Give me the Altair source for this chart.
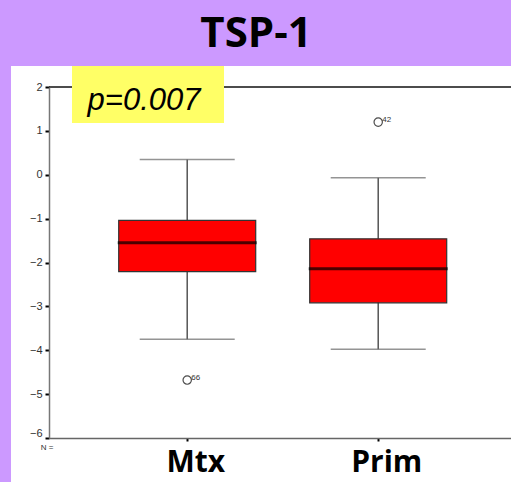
import altair as alt
import pandas as pd

# ---- data ----
groups = ["Mtx", "Prim"]
whisker_low = [-3.75, -3.98]
q1 = [-2.21, -2.92]
median = [-1.55, -2.14]
q3 = [-1.04, -1.46]
whisker_high = [0.35, -0.07]

outlier_group = ["Mtx", "Prim"]
outlier_value = [-4.68, 1.20]
outlier_case = ["66", "42"]

y_ticks = [-6, -5, -4, -3, -2, -1, 0, 1, 2]
title_text = "TSP-1"
p_text = "p=0.007"

boxes = pd.DataFrame({
    "group": groups, "low": whisker_low, "q1": q1, "median": median,
    "q3": q3, "high": whisker_high,
})
outliers = pd.DataFrame({"group": outlier_group, "value": outlier_value,
                         "case": outlier_case})
one = pd.DataFrame({"k": [0]})

xscale = alt.Scale(type="point", domain=groups, padding=0.7094, align=0.51)
yscale = alt.Scale(domain=[-6, 2], nice=False, zero=False)

xaxis = alt.Axis(title=None, labelAngle=0, domainColor="#666", domainWidth=1.5,
                 tickColor="black", tickWidth=2, tickSize=3,
                 labelFont="Open Sans", labelFontWeight="bold", labelFontSize=30,
                 labelColor="black", labelPadding=6, labelOffset=8, zindex=2)
yaxis = alt.Axis(title=None, values=y_ticks, grid=False, domainColor="#777",
                 domainWidth=1.5, tickColor="black", tickWidth=2, tickSize=4,
                 labelFont="Liberation Sans", labelFontSize=11, labelColor="#333",
                 labelPadding=3, zindex=2,
                 labelBaseline=alt.condition("datum.value == -6",
                                             alt.value("bottom"),
                                             alt.value("middle")))

X = alt.X("group:N", scale=xscale, axis=xaxis)

panel = alt.Chart(one).mark_rect(color="white").encode(
    x=alt.value(-38), x2=alt.value(470), y=alt.value(-21), y2=alt.value(400))

title = alt.Chart(one).mark_text(
    text=title_text, font="Open Sans", fontWeight="bold", fontSize=42,
    align="center", baseline="alphabetic", color="black"
).encode(x=alt.value(207), y=alt.value(-40))

top_rule = alt.Chart(one).mark_rule(color="#111", strokeWidth=1.5).encode(
    y=alt.datum(2, scale=yscale))

yellow = alt.Chart(one).mark_rect(color="#FFFF66").encode(
    x=alt.value(23), x2=alt.value(175), y=alt.value(-21), y2=alt.value(36))

ptxt = alt.Chart(one).mark_text(
    text=p_text, font="Liberation Sans", fontStyle="italic", fontSize=31,
    align="center", baseline="alphabetic", color="black"
).encode(x=alt.value(95), y=alt.value(23))

ntxt = alt.Chart(one).mark_text(
    text="N =", font="Liberation Sans", fontSize=8, align="center",
    baseline="middle", color="#333"
).encode(x=alt.value(-2), y=alt.value(361))

base = alt.Chart(boxes)

whisker = base.mark_rule(color="#555", strokeWidth=1.5).encode(
    x=X, y=alt.Y("low:Q", scale=yscale, axis=yaxis), y2="high:Q")

cap_low = base.mark_tick(size=95, thickness=1.5, color="#666").encode(
    x=X, y=alt.Y("low:Q", scale=yscale, axis=yaxis))
cap_high = base.mark_tick(size=95, thickness=1.5, color="#666").encode(
    x=X, y=alt.Y("high:Q", scale=yscale, axis=yaxis))

box = base.mark_bar(size=137, color="#FF0000", stroke="#333",
                    strokeWidth=1.2).encode(
    x=X, y=alt.Y("q1:Q", scale=yscale, axis=yaxis), y2="q3:Q")

med = base.mark_tick(size=139, thickness=3, color="black").encode(
    x=X, y=alt.Y("median:Q", scale=yscale, axis=yaxis))

pts = alt.Chart(outliers).mark_point(shape="circle", filled=False,
                                     color="black", size=70,
                                     strokeWidth=1.2).encode(
    x=X, y=alt.Y("value:Q", scale=yscale, axis=yaxis))

pt_lbl = alt.Chart(outliers).mark_text(
    align="left", baseline="middle", dx=4, dy=-2, fontSize=8,
    font="Liberation Sans", color="#333"
).encode(x=X, y=alt.Y("value:Q", scale=yscale, axis=yaxis), text="case:N")

chart = alt.layer(
    panel, title, top_rule, yellow, ptxt, ntxt,
    whisker, cap_low, cap_high, box, med, pts, pt_lbl
).properties(
    width=462, height=351,
    padding={"left": 49, "top": 87, "right": 0, "bottom": 44},
    autosize=alt.AutoSizeParams(type="none"),
    background="#CC99FF",
).configure_view(strokeWidth=0)

chart.save("out.html", embed_options={"renderer": "svg", "actions": False})
